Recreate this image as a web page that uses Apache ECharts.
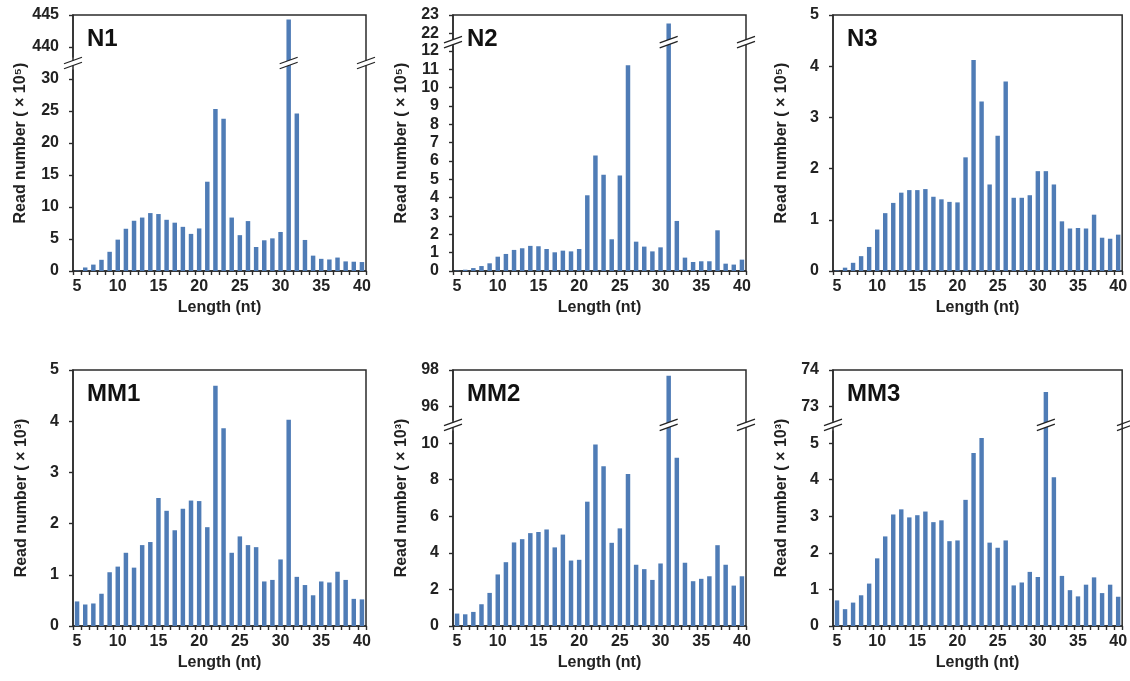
<!DOCTYPE html>
<html>
<head>
<meta charset="utf-8">
<script src="https://cdn.jsdelivr.net/npm/echarts@6/dist/echarts.min.js"></script>
<style>
html, body { margin: 0; padding: 0; background: #fff; }
#chart { width: 1130px; height: 681px; }
</style>
</head>
<body>
<div id="chart"></div>
<script>
// Read length categories (nt)
const lengths = ['5','6','7','8','9','10','11','12','13','14','15','16','17','18','19','20',
  '21','22','23','24','25','26','27','28','29','30','31','32','33','34','35','36','37','38','39','40'];

// Read counts per length (N samples in units of 10^5, MM samples in units of 10^3)
const n1 = [0.05,0.55,1.0,1.75,3.0,4.9,6.6,7.85,8.35,9.05,8.9,8.0,7.55,6.9,5.8,6.65,
  13.95,25.3,23.8,8.35,5.6,7.8,3.75,4.8,5.1,6.1,444.3,24.6,4.85,2.4,1.9,1.8,2.1,1.5,1.45,1.4];
const n2 = [0.02,0.07,0.16,0.27,0.42,0.78,0.93,1.15,1.24,1.37,1.35,1.2,1.02,1.11,1.07,1.2,
  4.13,6.3,5.25,1.73,5.21,11.22,1.6,1.33,1.07,1.29,22.53,2.73,0.73,0.49,0.53,0.53,2.22,0.4,0.35,0.62];
const n3 = [0.01,0.065,0.16,0.29,0.47,0.81,1.13,1.33,1.53,1.58,1.58,1.6,1.45,1.4,1.35,1.34,
  2.22,4.12,3.31,1.69,2.64,3.7,1.43,1.43,1.48,1.95,1.95,1.69,0.97,0.83,0.84,0.83,1.1,0.65,0.63,0.71];
const mm1 = [0.48,0.42,0.44,0.63,1.05,1.16,1.43,1.14,1.58,1.64,2.5,2.25,1.87,2.29,2.45,2.44,
  1.93,4.69,3.86,1.43,1.75,1.58,1.54,0.87,0.9,1.3,4.03,0.96,0.8,0.6,0.87,0.85,1.06,0.9,0.53,0.52];
const mm2 = [0.68,0.64,0.77,1.19,1.81,2.82,3.49,4.57,4.75,5.08,5.14,5.28,4.3,5.0,3.58,3.62,
  6.8,9.93,8.74,4.55,5.34,8.32,3.35,3.11,2.52,3.42,97.69,9.2,3.46,2.45,2.58,2.72,4.42,3.35,2.21,2.72];
const mm3 = [0.7,0.46,0.64,0.84,1.16,1.85,2.45,3.05,3.19,2.97,3.03,3.13,2.84,2.89,2.32,2.34,
  3.45,4.73,5.14,2.28,2.14,2.34,1.11,1.19,1.48,1.34,73.4,4.07,1.37,0.98,0.81,1.13,1.33,0.9,1.13,0.8];

// Y tick values for each panel
const n1Ticks = [0,5,10,15,20,25,30,440,445];
const n2Ticks = [0,1,2,3,4,5,6,7,8,9,10,11,12,22,23];
const n3Ticks = [0,1,2,3,4,5];
const mm1Ticks = [0,1,2,3,4,5];
const mm2Ticks = [0,2,4,6,8,10,96,98];
const mm3Ticks = [0,1,2,3,4,5,73,74];

const panels = [
  { label: 'N1',  values: n1,  ticks: n1Ticks,  unit: '10⁵', max: 445, brk: { start: 31.5, end: 438.5, gap: '5%' } },
  { label: 'N2',  values: n2,  ticks: n2Ticks,  unit: '10⁵', max: 23,  brk: { start: 12.3, end: 21.7, gap: '2.6%' } },
  { label: 'N3',  values: n3,  ticks: n3Ticks,  unit: '10⁵', max: 5,   brk: null },
  { label: 'MM1', values: mm1, ticks: mm1Ticks, unit: '10³', max: 5,   brk: null },
  { label: 'MM2', values: mm2, ticks: mm2Ticks, unit: '10³', max: 98,  brk: { start: 10.7, end: 95.3, gap: '4.3%' } },
  { label: 'MM3', values: mm3, ticks: mm3Ticks, unit: '10³', max: 74,  brk: { start: 5.35, end: 72.65, gap: '4.3%' } }
];

const FONT = "'Liberation Sans', Arial, Helvetica, sans-serif";
const INK = '#222';
const AXIS = '#2b2b2b';
const BAR = '#4f7cb6';
const gridLefts = [73, 453, 833];
const gridTops = [15, 370];
const gridW = 293;
const gridH = 256;

const chart = echarts.init(document.getElementById('chart'), null, { renderer: 'canvas' });

const grids = [], xAxes = [], yAxes = [], series = [], labels = [];
panels.forEach((p, i) => {
  const left = gridLefts[i % 3];
  const top = gridTops[Math.floor(i / 3)];
  grids.push({ left: left, top: top, width: gridW, height: gridH, show: true,
    borderColor: AXIS, borderWidth: 1.5, backgroundColor: 'transparent', containLabel: false });
  xAxes.push({
    type: 'category', gridIndex: i, data: lengths, boundaryGap: true,
    name: 'Length (nt)', nameLocation: 'middle', nameGap: 29,
    nameTextStyle: { fontFamily: FONT, fontSize: 16, fontWeight: 'bold', color: INK },
    axisLine: { show: true, lineStyle: { color: AXIS, width: 1.5 } },
    axisTick: { show: true, interval: 0, length: 4, alignWithLabel: false, lineStyle: { color: AXIS, width: 1.4 } },
    axisLabel: { interval: (idx, v) => Number(v) % 5 === 0, margin: 8,
      fontFamily: FONT, fontSize: 16, fontWeight: 'bold', color: INK },
    splitLine: { show: false }
  });
  const y = {
    type: 'value', gridIndex: i, min: 0, max: p.max,
    name: 'Read number ( × ' + p.unit + ')', nameLocation: 'middle', nameGap: 43,
    nameTextStyle: { fontFamily: FONT, fontSize: 16, fontWeight: 'bold', color: INK },
    axisLine: { show: true, lineStyle: { color: AXIS, width: 1.5 } },
    axisTick: { show: true, inside: false, length: 4, customValues: p.ticks, lineStyle: { color: AXIS, width: 1.4 } },
    axisLabel: { customValues: p.ticks, margin: 14, fontFamily: FONT, fontSize: 16, fontWeight: 'bold', color: INK },
    splitLine: { show: false }
  };
  if (p.brk) {
    y.breaks = [{ start: p.brk.start, end: p.brk.end, gap: p.brk.gap }];
    y.breakArea = { show: false, expandOnClick: false };
  }
  yAxes.push(y);
  series.push({
    type: 'bar', xAxisIndex: i, yAxisIndex: i, data: p.values,
    barWidth: '55%', itemStyle: { color: BAR }, silent: true
  });
  labels.push({
    type: 'text', x: left + 14, y: top + 24, z: 120,
    style: { text: p.label, fill: '#111', font: 'bold 24px ' + FONT, align: 'left', verticalAlign: 'middle' }
  });
});

chart.setOption({
  animation: false,
  backgroundColor: '#fff',
  grid: grids, xAxis: xAxes, yAxis: yAxes, series: series,
  graphic: labels
});

// Slanted double-stroke marks where each broken axis is cut
function breakMark(cx, cy, coverHalf) {
  const hw = 9, slope = 0.36, off = 2.5;
  const yAt = (x, o) => cy + o - slope * (x - cx);
  const els = [];
  els.push({
    type: 'polygon', z: 110, silent: true,
    shape: { points: [
      [cx - coverHalf, yAt(cx - coverHalf, -off)],
      [cx + coverHalf, yAt(cx + coverHalf, -off)],
      [cx + coverHalf, yAt(cx + coverHalf, off)],
      [cx - coverHalf, yAt(cx - coverHalf, off)]
    ] },
    style: { fill: '#fff' }
  });
  [-off, off].forEach(o => {
    els.push({
      type: 'line', z: 111, silent: true,
      shape: { x1: cx - hw, y1: yAt(cx - hw, o), x2: cx + hw, y2: yAt(cx + hw, o) },
      style: { stroke: INK, lineWidth: 1.3 }
    });
  });
  return els;
}

const marks = [];
panels.forEach((p, i) => {
  if (!p.brk) return;
  const left = gridLefts[i % 3];
  const yA = chart.convertToPixel({ yAxisIndex: i }, p.brk.start);
  const yB = chart.convertToPixel({ yAxisIndex: i }, p.brk.end);
  const cy = (yA + yB) / 2;
  marks.push(...breakMark(left, cy, 3));
  marks.push(...breakMark(left + gridW, cy, 3));
  const x0 = chart.convertToPixel({ xAxisIndex: i }, 0);
  const x1 = chart.convertToPixel({ xAxisIndex: i }, 1);
  const band = x1 - x0;
  p.values.forEach((v, j) => {
    if (v > p.brk.end) {
      const cx = chart.convertToPixel({ xAxisIndex: i }, j);
      marks.push(...breakMark(cx, cy, band * 0.55 / 2 + 1.5));
    }
  });
});

chart.setOption({ graphic: labels.concat(marks) }, { replaceMerge: ['graphic'] });
</script>
</body>
</html>
